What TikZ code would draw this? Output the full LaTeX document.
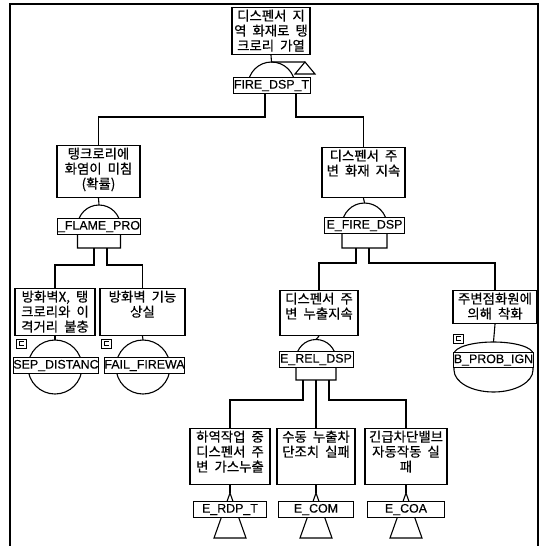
\documentclass[tikz,border=0pt]{standalone}
\usepackage{fontspec}
\newfontfamily\kr[WordSpace=2, FakeBold=0.5]{Noto Sans CJK KR}
\newfontfamily\lb[FakeBold=0.2]{Liberation Sans}
\usetikzlibrary{calc}
\newcommand{\evtxt}[3]{\parbox[t][#2][t]{#1}{\centering #3}}

\begin{document}
\begin{tikzpicture}[
  x=1pt, y=-1pt,
  line width=1.1pt,
  evt/.style={draw, anchor=north, inner xsep=0pt, inner ysep=2pt,
              font={\kr\fontsize{13.4}{15}\selectfont}},
  lbl/.style={draw, fill=white, inner sep=0pt, minimum height=15.5pt,
              line width=1pt, font={\lb\fontsize{12.4}{13}\selectfont}},
  wire/.style={line width=1.1pt},
  gate/.style={draw, fill=white, line width=1.1pt},
]
\useasboundingbox (0,0) rectangle (541,546);
% --- frame
\draw (10,546) -- (10,4) -- (538,4) -- (538,546);

% --- row 0: top event
\node[evt] (top) at (271,7) {\evtxt{78pt}{43pt}{디스펜서 지\\역 화재로 탱\\크로리 가열}};
\draw[gate] (248,85.5) arc[start angle=180, end angle=0, radius=23.5pt];
\node[lbl, minimum width=77pt] (g0) at (271.5,85.5) {FIRE\_DSP\_T};
\coordinate (g0top) at (271.5,62);
\draw[gate] (295,74) -- (305,62) -- (315,74) -- cycle;
\draw[wire] (top.south) -- (g0top) -- (305,62);
\coordinate (g0l) at (265,93);
\coordinate (g0r) at (296,93);

% --- row 1: two AND branches
\node[evt] (flame) at (98.5,145) {\evtxt{83pt}{48pt}{탱크로리에\\화염이 미침\\(확률)}};
\node[evt] (fire)  at (363.5,147) {\evtxt{83pt}{46pt}{디스펜서 주\\변 화재 지속}};
\draw[wire] (g0l) |- (98.5,117) -- (flame.north);
\draw[wire] (g0r) |- (363.5,117) -- (fire.north);

\draw[gate] (77.5,248) -- (77.5,226.5) arc[start angle=180, end angle=0, radius=21.5pt] -- (120.5,248) -- cycle;
\node[lbl, minimum width=78pt] (g1) at (99,226.5) {\_FLAME\_PRO};
\draw[wire] (flame.south) -- (99,205);
\draw[gate] (342,248) -- (342,225.5) arc[start angle=180, end angle=0, radius=22.5pt] -- (387,248) -- cycle;
\node[lbl, minimum width=80pt] (g2) at (364.5,225.5) {E\_FIRE\_DSP};
\draw[wire] (fire.south) -- (364.5,203);

% --- row 2: events under the branches
\node[evt] (sep)  at (55,288)    {\evtxt{80pt}{43pt}{방화벽X, 탱\\크로리와 이\\격거리 불충}};
\node[evt] (wall) at (142.5,288) {\evtxt{85pt}{43pt}{방화벽 기능\\상실}};
\node[evt] (rel)  at (319,290)   {\evtxt{78pt}{41pt}{디스펜서 주\\변 누출지속}};
\node[evt] (ign)  at (495,290)   {\evtxt{84pt}{29pt}{주변점화원에\\의해 착화}};
\draw[wire] (94,248)  |- (sep.north |- 0,265)  -- (sep.north);
\draw[wire] (107,248) |- (wall.north |- 0,265) -- (wall.north);
\draw[wire] (356,248) |- (rel.north |- 0,263)  -- (rel.north);
\draw[wire] (369,248) |- (ign.north |- 0,263)  -- (ign.north);

% basic events
\draw (55,367) circle[radius=27pt];
\node[lbl, minimum width=78pt] (b1) at (56,365.5) {SEP\_DISTANC};
\draw (143,367) circle[radius=27pt];
\node[lbl, minimum width=75pt] (b2) at (144.5,365.5) {FAIL\_FIREWA};
\draw[wire] (sep.south) -- (55,340);
\draw[wire] (wall.south) -- (143,340);
\foreach \mx/\my in {16/339, 101/339, 453/334}
  \draw[line width=0.9pt] (\mx,\my) rectangle ++(10,9)
        (\mx+7.5,\my+2.5) -- (\mx+3,\my+2.5) -- (\mx+3,\my+6.5) -- (\mx+7.5,\my+6.5);

% conditioning event
\draw (454,354) -- (454,370) arc[start angle=180, end angle=360, x radius=39.5pt, y radius=22pt]
      -- (533,354) arc[start angle=0, end angle=180, x radius=39.5pt, y radius=12pt];
\node[lbl, minimum width=76pt] (b3) at (493.5,360) {B\_PROB\_IGN};
\draw[wire] (ign.south) -- (493.5,342);

% E_REL_DSP gate
\draw[gate] (296,380) -- (296,359.5) arc[start angle=180, end angle=0, radius=20pt] -- (336,380) -- cycle;
\node[lbl, minimum width=74pt] (g3) at (316,359.5) {E\_REL\_DSP};
\draw[wire] (rel.south) -- (316,339.5);

% --- row 3: transferred events
\node[evt] (unl) at (230,428) {\evtxt{80pt}{52pt}{하역작업 중\\디스펜서 주\\변 가스누출}};
\node[evt] (man) at (316,428) {\evtxt{78pt}{52pt}{수동 누출차\\단조치 실패}};
\node[evt] (esd) at (406,428) {\evtxt{82pt}{52pt}{긴급차단밸브\\자동작동 실\\패}};
\draw[wire] (303,380) |- (unl.north |- 0,400) -- (unl.north);
\draw[wire] (316,380) -- (man.north);
\draw[wire] (329,380) |- (esd.north |- 0,400) -- (esd.north);

\foreach \tx/\tn/\tw in {230/E\_RDP\_T/73, 316/E\_COM/75, 406/E\_COA/77}{
  \draw[gate] (\tx,493) -- (\tx-16,538) -- (\tx+16,538) -- cycle;
  \node[lbl, minimum width=\tw pt] at (\tx,509.5) {\tn};
}
\draw[wire] (unl.south) -- (230,493);
\draw[wire] (man.south) -- (316,493);
\draw[wire] (esd.south) -- (406,493);
\end{tikzpicture}
\end{document}
